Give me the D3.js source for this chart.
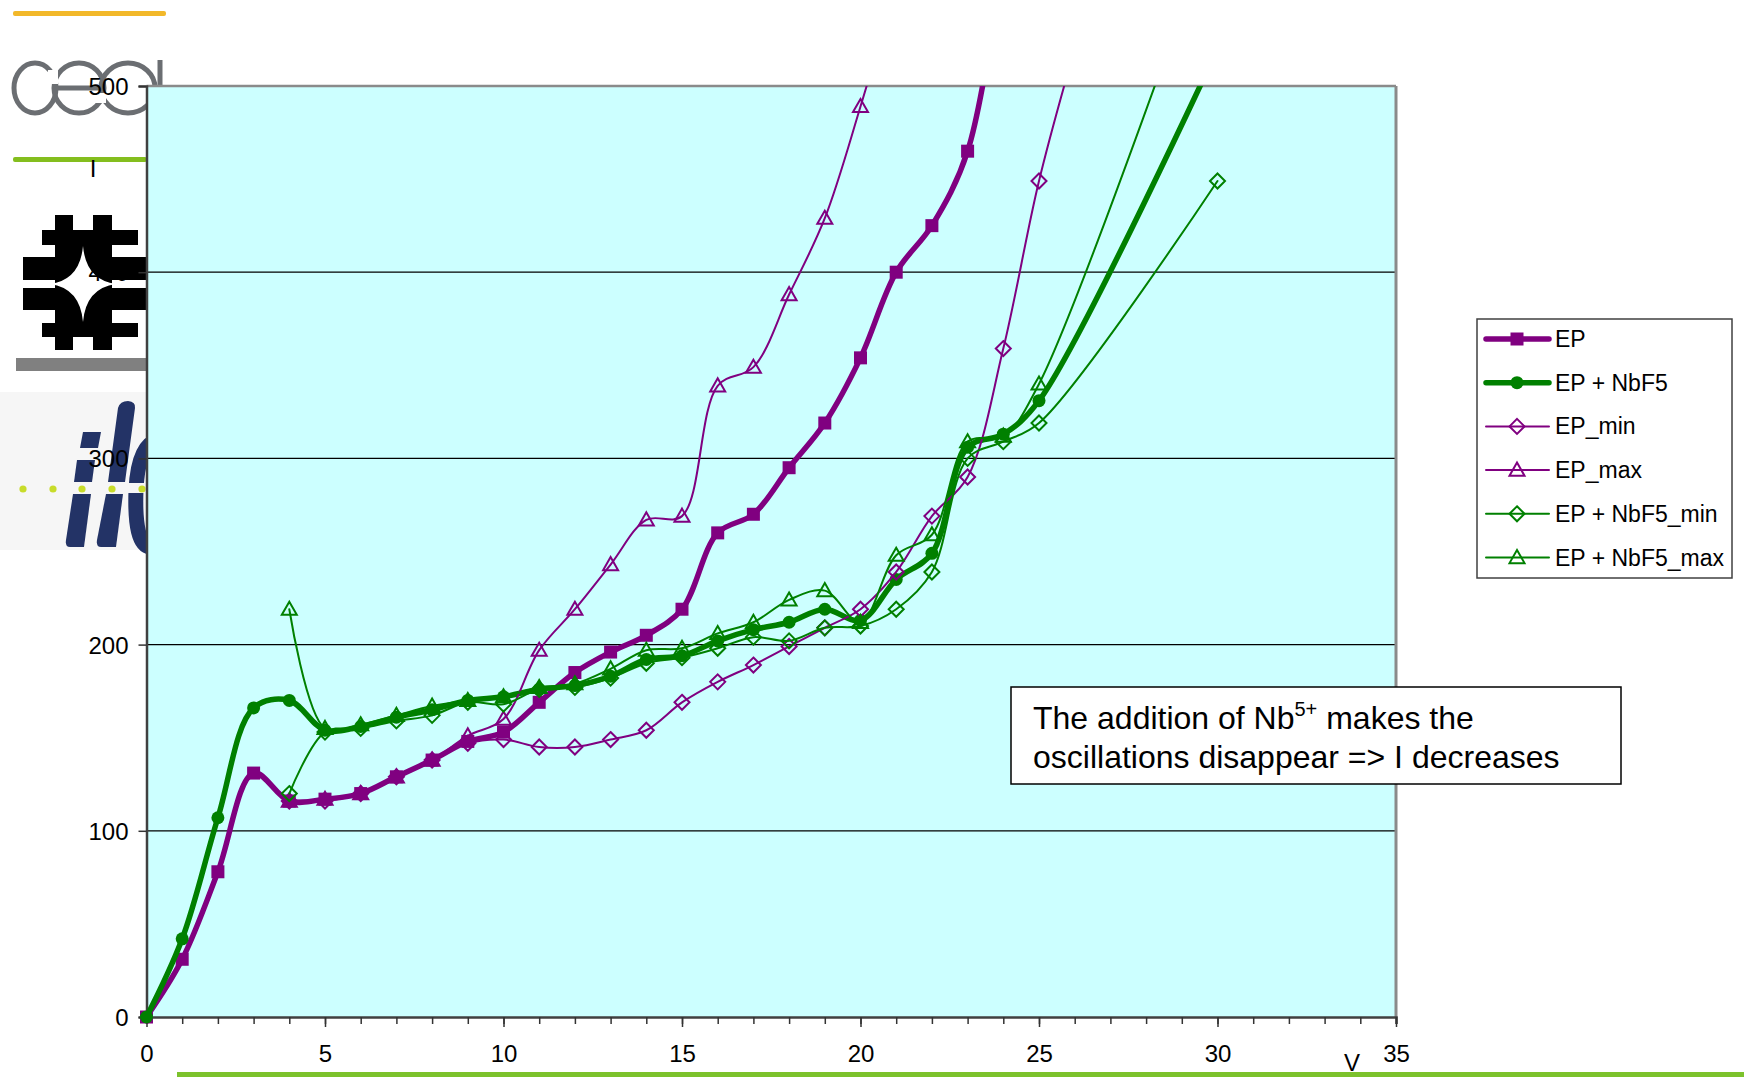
<!DOCTYPE html>
<html lang="en">
<head>
<meta charset="utf-8">
<title>EP vs EP + NbF5</title>
<script src="https://d3js.org/d3.v7.min.js"></script>
<style>
  body { margin: 0; background: #fff; }
  svg { display: block; font-family: "Liberation Sans", Arial, sans-serif; }
</style>
</head>
<body>
<svg width="1744" height="1077"></svg>
<script>
// values (V on x, I on y)
const vEP = d3.range(0, 25);
const iEP = [0, 31, 78, 131, 116, 117, 120, 129, 138, 148, 153, 169, 185, 196, 205, 219, 260, 270, 295, 319, 354, 400, 425, 465, 570];

const vNb = [0, 1, 2, 3, 4, 5, 6, 7, 8, 9, 10, 11, 12, 13, 14, 15, 16, 17, 18, 19, 20, 21, 22, 23, 24, 25, 30];
const iNb = [0, 42, 107, 166, 170, 154, 156, 161, 165, 170, 172, 176, 178, 183, 192, 194, 202, 208, 212, 219, 213, 235, 249, 306, 313, 331, 520];

const vEPmin = d3.range(4, 27);
const iEPmin = [116, 116, 120, 129, 138, 147, 149, 145, 145, 149, 154, 169, 180, 189, 199, 209, 219, 239, 269, 290, 359, 449, 520];

const vEPmax = d3.range(4, 22);
const iEPmax = [116, 117, 120, 129, 138, 151, 160, 197, 219, 243, 267, 269, 339, 349, 388, 429, 489, 555];

const vNbMin = [4, 5, 6, 7, 8, 9, 10, 11, 12, 13, 14, 15, 16, 17, 18, 19, 20, 21, 22, 23, 24, 25, 30];
const iNbMin = [120, 153, 155, 159, 162, 169, 168, 176, 177, 182, 190, 193, 198, 204, 202, 209, 210, 219, 239, 300, 309, 319, 449];

const vNbMax = [4, 5, 6, 7, 8, 9, 10, 11, 12, 13, 14, 15, 16, 17, 18, 19, 20, 21, 22, 23, 24, 25, 30];
const iNbMax = [219, 155, 157, 162, 167, 170, 172, 177, 179, 187, 197, 198, 206, 212, 224, 229, 212, 248, 259, 309, 312, 340, 595];

const seriesNames = ["EP", "EP + NbF5", "EP_min", "EP_max", "EP + NbF5_min", "EP + NbF5_max"];
const xTicks = [0, 5, 10, 15, 20, 25, 30, 35];
const yTicks = [0, 100, 200, 300, 400, 500];

const purple = "#800080", green = "#008000";

const series = [
  {name: seriesNames[0], xs: vEP, ys: iEP, color: purple, w: 5.5, mark: "square"},
  {name: seriesNames[1], xs: vNb, ys: iNb, color: green, w: 5.5, mark: "circle"},
  {name: seriesNames[2], xs: vEPmin, ys: iEPmin, color: purple, w: 2, mark: "diamond"},
  {name: seriesNames[3], xs: vEPmax, ys: iEPmax, color: purple, w: 2, mark: "triangle"},
  {name: seriesNames[4], xs: vNbMin, ys: iNbMin, color: green, w: 2, mark: "diamond"},
  {name: seriesNames[5], xs: vNbMax, ys: iNbMax, color: green, w: 2, mark: "triangle"}
];

const svg = d3.select("svg");
const pLeft = 146.5, pRight = 1396, pTop = 86, pBottom = 1017;

const x = d3.scaleLinear().domain([0, 35]).range([pLeft, pRight]);
const y = d3.scaleLinear().domain([0, 500]).range([pBottom, pTop]);

// ---- logos on the left (decoration) ----
const logo = svg.append("g");
logo.append("rect").attr("x", 0).attr("y", 392).attr("width", 147).attr("height", 158).attr("fill", "#f6f6f6");
logo.append("rect").attr("x", 13).attr("y", 11).attr("width", 153).attr("height", 5).attr("rx", 2).attr("fill", "#f2b82a");
// cea rings
[[35, 21], [79, 25], [128, 27]].forEach(([cx, rx]) => {
  logo.append("ellipse").attr("cx", cx).attr("cy", 88).attr("rx", rx).attr("ry", 25)
    .attr("fill", "none").attr("stroke", "#6b6e72").attr("stroke-width", 5);
});
logo.append("line").attr("x1", 56).attr("x2", 103).attr("y1", 88).attr("y2", 88).attr("stroke", "#6b6e72").attr("stroke-width", 5);
logo.append("line").attr("x1", 160).attr("x2", 160).attr("y1", 60).attr("y2", 114).attr("stroke", "#6b6e72").attr("stroke-width", 5);
logo.append("rect").attr("x", 48).attr("y", 70).attr("width", 10).attr("height", 14).attr("fill", "#fff");
logo.append("rect").attr("x", 94).attr("y", 93).attr("width", 12).attr("height", 10).attr("fill", "#fff");
logo.append("rect").attr("x", 13).attr("y", 157).attr("width", 134).attr("height", 5).attr("rx", 2).attr("fill", "#84be1e");

// fermilab mark
const fb = logo.append("g").attr("fill", "#000");
fb.append("rect").attr("x", 55).attr("y", 215).attr("width", 18).attr("height", 135);
fb.append("rect").attr("x", 93).attr("y", 215).attr("width", 19).attr("height", 135);
fb.append("rect").attr("x", 42).attr("y", 230).attr("width", 96).attr("height", 15);
fb.append("rect").attr("x", 23).attr("y", 257).attr("width", 124).attr("height", 23);
fb.append("rect").attr("x", 23).attr("y", 288).attr("width", 124).attr("height", 22);
fb.append("rect").attr("x", 42).attr("y", 323).attr("width", 96).attr("height", 14);
fb.append("rect").attr("x", 55).attr("y", 245).attr("width", 57).attr("height", 78);
logo.append("path").attr("fill", "#fff")
  .attr("d", "M83,246 Q86,280 116,284 Q86,288 83,322 Q80,288 50,284 Q80,280 83,246 Z");
logo.append("rect").attr("x", 16).attr("y", 358).attr("width", 131).attr("height", 13).attr("fill", "#808080");

// ilc mark
const ilc = logo.append("g").attr("fill", "#233366");
ilc.append("path").attr("d", "M83,432 L101,432 L98,448 L80,448 Z");
ilc.append("path").attr("d", "M77,460 L95,460 L92,482 L74,482 Z");
ilc.append("path").attr("d", "M73,494 L91,494 L84,547 L70,547 Q65,547 66,540 Z");
ilc.append("path").attr("d", "M118,408 Q120,401 128,401 Q136,402 135,408 L125,482 L108,482 Z");
ilc.append("path").attr("d", "M106,494 L123,494 L116,547 L101,547 Q96,547 97,540 Z");
logo.append("path").attr("d", "M158,440 Q138,445 136,490 Q134,545 150,547")
  .attr("fill", "none").attr("stroke", "#233366").attr("stroke-width", 15);
logo.append("rect").attr("x", 0).attr("y", 483).attr("width", 147).attr("height", 10).attr("fill", "#f6f6f6");
[23, 53, 82, 112, 142].forEach(cx => {
  logo.append("circle").attr("cx", cx).attr("cy", 489).attr("r", 3.6).attr("fill", "#c8dc2a");
});

// ---- plot area ----
svg.append("rect").attr("x", pLeft).attr("y", pTop).attr("width", pRight - pLeft).attr("height", pBottom - pTop)
  .attr("fill", "#ccffff");

svg.append("g").selectAll("line").data(yTicks.slice(1, -1)).join("line")
  .attr("x1", pLeft).attr("x2", pRight).attr("y1", d => y(d)).attr("y2", d => y(d))
  .attr("stroke", "#000").attr("stroke-width", 1.2);

svg.append("defs").append("clipPath").attr("id", "plot")
  .append("rect").attr("x", pLeft - 10).attr("y", pTop).attr("width", pRight - pLeft + 10).attr("height", pBottom - pTop + 20);

// border
svg.append("line").attr("x1", pLeft).attr("x2", pRight).attr("y1", pTop).attr("y2", pTop).attr("stroke", "#8a8a8a").attr("stroke-width", 2.5);
svg.append("line").attr("x1", pRight).attr("x2", pRight).attr("y1", pTop).attr("y2", pBottom).attr("stroke", "#8a8a8a").attr("stroke-width", 3);

// axes
const yAxis = d3.axisLeft(y).tickValues(yTicks).tickSize(8).tickPadding(10).tickFormat(d3.format("d"));
const gy = svg.append("g").attr("transform", `translate(${pLeft},0)`).call(yAxis);
const xAxis = d3.axisBottom(x).tickValues(d3.range(0, 36)).tickSize(7).tickFormat("");
const gx = svg.append("g").attr("transform", `translate(0,${pBottom})`).call(xAxis);
const gxl = svg.append("g").attr("transform", `translate(0,${pBottom})`)
  .call(d3.axisBottom(x).tickValues(xTicks).tickSize(10).tickPadding(18).tickFormat(d3.format("d")));
[gy, gx, gxl].forEach(g => {
  g.select(".domain").attr("stroke", "#404040").attr("stroke-width", 2.5);
  g.selectAll(".tick line").attr("stroke", "#333").attr("stroke-width", 1.5);
  g.selectAll("text").attr("font-size", 24).attr("fill", "#000").attr("font-family", "Liberation Sans, Arial, sans-serif");
});
gxl.select(".domain").remove();
gy.selectAll(".tick text").attr("dy", "0.35em");

// series
const line = d3.line().x(d => x(d[0])).y(d => y(d[1])).curve(d3.curveCatmullRom.alpha(0.5));

function markPath(kind, s) {
  if (kind === "diamond") return `M0,${-s}L${s},0L0,${s}L${-s},0Z`;
  if (kind === "triangle") return `M0,${-s}L${s},${s * 0.75}L${-s},${s * 0.75}Z`;
  return null;
}

function drawMark(g, kind, color, cx, cy) {
  if (kind === "square") {
    g.append("rect").attr("x", cx - 6.5).attr("y", cy - 6.5).attr("width", 13).attr("height", 13).attr("fill", color);
  } else if (kind === "circle") {
    g.append("circle").attr("cx", cx).attr("cy", cy).attr("r", 6.5).attr("fill", color);
  } else {
    g.append("path").attr("transform", `translate(${cx},${cy})`).attr("d", markPath(kind, 7.5))
      .attr("fill", "none").attr("stroke", color).attr("stroke-width", 2);
  }
}

const plot = svg.append("g").attr("clip-path", "url(#plot)");
series.forEach(s => {
  const pts = s.xs.map((v, i) => [v, s.ys[i]]);
  const g = plot.append("g");
  g.append("path").attr("d", line(pts)).attr("fill", "none").attr("stroke", s.color)
    .attr("stroke-width", s.w).attr("stroke-linejoin", "round").attr("stroke-linecap", "round");
  pts.filter(p => p[1] <= 500).forEach(p => drawMark(g, s.mark, s.color, x(p[0]), y(p[1])));
});

// axis titles
svg.append("text").attr("x", 93).attr("y", 177).attr("text-anchor", "middle").attr("font-size", 24).text("I");
svg.append("text").attr("x", 1352).attr("y", 1071).attr("text-anchor", "middle").attr("font-size", 24).text("V");
svg.append("rect").attr("x", 177).attr("y", 1072).attr("width", 1567).attr("height", 5).attr("fill", "#7cc22c");

// legend
const lg = svg.append("g");
lg.append("rect").attr("x", 1477).attr("y", 319).attr("width", 255).attr("height", 259)
  .attr("fill", "#fff").attr("stroke", "#404040").attr("stroke-width", 1.5);
series.forEach((s, i) => {
  const cy = 339 + i * 43.7;
  lg.append("line").attr("x1", 1486).attr("x2", 1549).attr("y1", cy).attr("y2", cy)
    .attr("stroke", s.color).attr("stroke-width", s.w).attr("stroke-linecap", "round");
  drawMark(lg, s.mark, s.color, 1517, cy);
  lg.append("text").attr("x", 1555).attr("y", cy).attr("dy", "0.35em").attr("font-size", 23).text(s.name);
});

// annotation
const note = svg.append("g");
note.append("rect").attr("x", 1011).attr("y", 687).attr("width", 610).attr("height", 97)
  .attr("fill", "#fff").attr("stroke", "#000").attr("stroke-width", 1.5);
const t1 = note.append("text").attr("x", 1033).attr("y", 729).attr("font-size", 32);
t1.append("tspan").text("The addition of Nb");
t1.append("tspan").attr("dy", -13).attr("font-size", 20).text("5+");
t1.append("tspan").attr("dy", 13).text(" makes the");
note.append("text").attr("x", 1033).attr("y", 768).attr("font-size", 32).text("oscillations disappear => I decreases");
</script>
</body>
</html>
